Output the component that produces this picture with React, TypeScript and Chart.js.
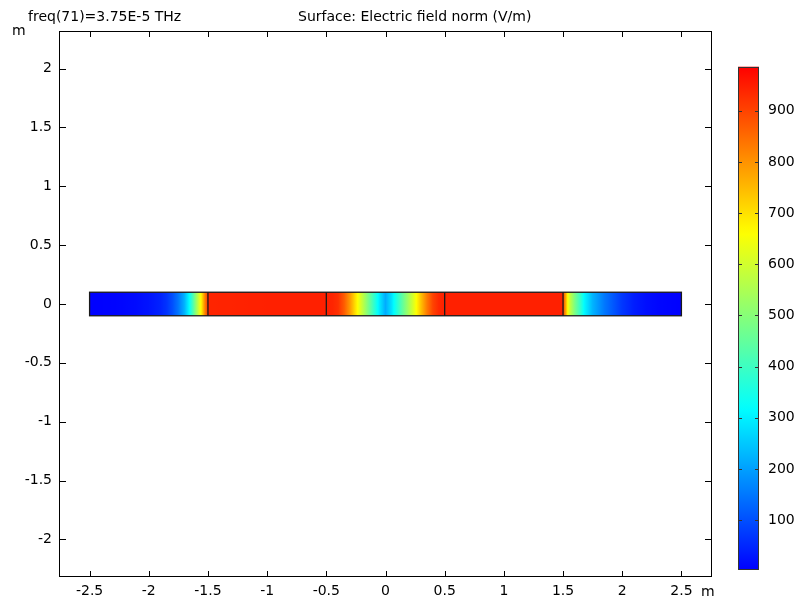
import React, { useEffect, useRef } from 'react';
import { Chart, registerables } from 'chart.js';

Chart.register(...registerables);

const FONT = "'DejaVu Sans', sans-serif";

const xTickValues = [-2.5, -2, -1.5, -1, -0.5, 0, 0.5, 1, 1.5, 2, 2.5];
const yTickValues = [-2, -1.5, -1, -0.5, 0, 0.5, 1, 1.5, 2];
const colorTickValues = [100, 200, 300, 400, 500, 600, 700, 800, 900];

// Electric field norm (V/m) sampled along the strip (x in m)
const fieldX = [
  -2.5, -2.4, -2.3, -2.2, -2.1, -2.0, -1.9, -1.85, -1.8, -1.75, -1.7, -1.66, -1.63, -1.6, -1.56, -1.53, -1.5,
  -1.5, -1.0, -0.5,
  -0.45, -0.4, -0.35, -0.3, -0.25, -0.2, -0.15, -0.1, -0.05, 0, 0.05, 0.1, 0.15, 0.2, 0.25, 0.3, 0.35, 0.4, 0.45, 0.5,
  1.0, 1.5,
  1.5, 1.52, 1.54, 1.56, 1.6, 1.65, 1.68, 1.75, 1.85, 2.0, 2.1, 2.2, 2.3, 2.4, 2.5,
];
const fieldE = [
  3, 4, 6, 10, 16, 26, 45, 65, 100, 150, 220, 310, 410, 520, 660, 800, 920,
  940, 945, 945,
  940, 925, 870, 790, 690, 590, 490, 390, 290, 215, 280, 370, 460, 550, 640, 740, 830, 900, 935, 945,
  945, 945,
  900, 790, 660, 580, 480, 380, 310, 225, 150, 70, 38, 20, 10, 6, 3,
];

const domainEdges = [-2.5, -1.5, -0.5, 0.5, 1.5, 2.5];
const stripBottom = -0.1;
const stripTop = 0.1;

const colorMin = 2.5;
const colorMax = 986;

const leftTitle = 'freq(71)=3.75E-5 THz';
const centerTitle = 'Surface: Electric field norm (V/m)';
const unitLabel = 'm';

const rainbowStops: [number, number, number, number][] = [
  [0, 0, 0, 255],
  [0.32, 0, 255, 255],
  [0.67, 255, 255, 0],
  [1, 255, 0, 0],
];

function colorFor(v: number): string {
  let t = (v - colorMin) / (colorMax - colorMin);
  t = Math.max(0, Math.min(1, t));
  for (let i = 0; i < rainbowStops.length - 1; i++) {
    const a = rainbowStops[i];
    const b = rainbowStops[i + 1];
    if (t <= b[0]) {
      const f = (t - a[0]) / (b[0] - a[0]);
      const r = Math.round(a[1] + (b[1] - a[1]) * f);
      const g = Math.round(a[2] + (b[2] - a[2]) * f);
      const bl = Math.round(a[3] + (b[3] - a[3]) * f);
      return `rgb(${r},${g},${bl})`;
    }
  }
  return 'rgb(255,0,0)';
}

const stripPlugin = {
  id: 'strip',
  afterDatasetsDraw(chart: any) {
    const ctx = chart.ctx as CanvasRenderingContext2D;
    const xs = chart.scales.x;
    const ys = chart.scales.y;
    const pts = chart.data.datasets[0].data as { x: number; y: number; e: number }[];
    const x0 = xs.getPixelForValue(pts[0].x);
    const x1 = xs.getPixelForValue(pts[pts.length - 1].x);
    const yT = ys.getPixelForValue(stripTop);
    const yB = ys.getPixelForValue(stripBottom);
    const grad = ctx.createLinearGradient(x0, 0, x1, 0);
    const off = (x: number) => Math.max(0, Math.min(1, (xs.getPixelForValue(x) - x0) / (x1 - x0)));
    grad.addColorStop(0, colorFor(pts[0].e));
    for (let i = 0; i < pts.length - 1; i++) {
      const a = pts[i];
      const b = pts[i + 1];
      if (a.x === b.x) {
        grad.addColorStop(off(b.x), colorFor(b.e));
        continue;
      }
      const n = 10;
      for (let k = 1; k <= n; k++) {
        const x = a.x + ((b.x - a.x) * k) / n;
        const v = a.e + ((b.e - a.e) * k) / n;
        grad.addColorStop(off(x), colorFor(v));
      }
    }
    ctx.save();
    ctx.fillStyle = grad;
    ctx.fillRect(x0, yT, x1 - x0, yB - yT);
    ctx.strokeStyle = '#1a1a1a';
    ctx.lineWidth = 1.3;
    ctx.strokeRect(x0, yT, x1 - x0, yB - yT);
    domainEdges.slice(1, -1).forEach((e) => {
      const px = xs.getPixelForValue(e);
      ctx.beginPath();
      ctx.moveTo(px, yT);
      ctx.lineTo(px, yB);
      ctx.stroke();
    });
    ctx.restore();
  },
};

const framePlugin = {
  id: 'frame',
  afterDraw(chart: any) {
    const ctx = chart.ctx as CanvasRenderingContext2D;
    const { left, right, top, bottom } = chart.chartArea;
    const xs = chart.scales.x;
    const ys = chart.scales.y;
    const tl = 6;
    ctx.save();
    ctx.strokeStyle = '#000';
    ctx.lineWidth = 1;
    ctx.strokeRect(Math.round(left) - 0.5, Math.round(top) + 0.5, Math.round(right - left) + 1, Math.round(bottom - top) - 1);
    ctx.beginPath();
    xTickValues.forEach((v) => {
      const px = Math.round(xs.getPixelForValue(v)) + 0.5;
      ctx.moveTo(px, bottom);
      ctx.lineTo(px, bottom - tl);
      ctx.moveTo(px, top);
      ctx.lineTo(px, top + tl);
    });
    yTickValues.forEach((v) => {
      const py = Math.round(ys.getPixelForValue(v)) + 0.5;
      ctx.moveTo(left, py);
      ctx.lineTo(left + tl, py);
      ctx.moveTo(right, py);
      ctx.lineTo(right - tl, py);
    });
    ctx.stroke();

    ctx.fillStyle = '#000';
    ctx.font = `14px ${FONT}`;
    ctx.textBaseline = 'alphabetic';
    ctx.textAlign = 'left';
    ctx.fillText(leftTitle, 28, 21);
    ctx.fillText(centerTitle, 298, 21);
    ctx.fillText(unitLabel, 12, 35);
    ctx.fillText(unitLabel, 701, 596);
    ctx.restore();
  },
};

const colorbarPlugin = {
  id: 'colorbar',
  afterDraw(chart: any) {
    const ctx = chart.ctx as CanvasRenderingContext2D;
    const { left, right, top, bottom } = chart.chartArea;
    const ys = chart.scales.y;
    const pB = ys.getPixelForValue(colorMin);
    const pT = ys.getPixelForValue(colorMax);
    const grad = ctx.createLinearGradient(0, pB, 0, pT);
    const n = 60;
    for (let k = 0; k <= n; k++) {
      const v = colorMin + ((colorMax - colorMin) * k) / n;
      grad.addColorStop(k / n, colorFor(v));
    }
    ctx.save();
    ctx.fillStyle = grad;
    ctx.fillRect(left, top, right - left, bottom - top);
    ctx.strokeStyle = '#333';
    ctx.lineWidth = 1;
    ctx.strokeRect(Math.round(left) + 0.5, Math.round(top) + 0.5, Math.round(right - left) - 1, Math.round(bottom - top) - 1);
    ctx.beginPath();
    colorTickValues.forEach((v) => {
      const py = Math.round(ys.getPixelForValue(v)) + 0.5;
      ctx.moveTo(left, py);
      ctx.lineTo(left + 4, py);
      ctx.moveTo(right, py);
      ctx.lineTo(right - 4, py);
    });
    ctx.stroke();
    ctx.restore();
  },
};

export default function App() {
  const mainRef = useRef<HTMLCanvasElement>(null);
  const barRef = useRef<HTMLCanvasElement>(null);

  useEffect(() => {
    const tickFont = { family: FONT, size: 14 };
    const noGrid = { display: false, drawTicks: false, tickLength: 0 };
    const main = new Chart(mainRef.current as HTMLCanvasElement, {
      type: 'scatter',
      data: {
        datasets: [
          {
            data: fieldX.map((x, i) => ({ x, y: 0, e: fieldE[i] })) as any,
            pointRadius: 0,
            showLine: false,
          },
        ],
      },
      options: {
        responsive: false,
        animation: false,
        devicePixelRatio: 1,
        events: [],
        layout: { padding: { left: 0, top: 31, right: 87, bottom: 0 } },
        plugins: { legend: { display: false }, tooltip: { enabled: false } },
        scales: {
          x: {
            type: 'linear',
            min: -2.75,
            max: 2.75,
            grid: noGrid,
            border: { display: false },
            afterBuildTicks: (s: any) => {
              s.ticks = xTickValues.map((v) => ({ value: v }));
            },
            afterFit: (s: any) => {
              s.height = 24;
            },
            ticks: {
              padding: 6,
              color: '#000',
              font: tickFont,
              maxRotation: 0,
              autoSkip: false,
              callback: (v: any) => String(v),
            },
          },
          y: {
            type: 'linear',
            min: -2.32,
            max: 2.32,
            grid: noGrid,
            border: { display: false },
            afterBuildTicks: (s: any) => {
              s.ticks = yTickValues.map((v) => ({ value: v }));
            },
            afterFit: (s: any) => {
              s.width = 60;
            },
            ticks: {
              padding: 8,
              color: '#000',
              font: tickFont,
              autoSkip: false,
              callback: (v: any) => String(v),
            },
          },
        },
      } as any,
      plugins: [stripPlugin, framePlugin],
    });

    const bar = new Chart(barRef.current as HTMLCanvasElement, {
      type: 'scatter',
      data: { datasets: [] },
      options: {
        responsive: false,
        animation: false,
        devicePixelRatio: 1,
        events: [],
        layout: { padding: { left: 38, top: 66.7, right: 0, bottom: 31 } },
        plugins: { legend: { display: false }, tooltip: { enabled: false } },
        scales: {
          x: { type: 'linear', display: false, min: 0, max: 1 },
          y: {
            type: 'linear',
            position: 'right',
            min: colorMin,
            max: colorMax,
            grid: noGrid,
            border: { display: false },
            afterBuildTicks: (s: any) => {
              s.ticks = colorTickValues.map((v) => ({ value: v }));
            },
            afterFit: (s: any) => {
              s.width = 39;
            },
            ticks: {
              padding: 9,
              color: '#000',
              font: tickFont,
              autoSkip: false,
              callback: (v: any) => String(v),
            },
          },
        },
      } as any,
      plugins: [colorbarPlugin],
    });

    return () => {
      main.destroy();
      bar.destroy();
    };
  }, []);

  return (
    <div style={{ position: 'fixed', left: 0, top: 0, width: 798, height: 601, background: '#fff' }}>
      <canvas ref={mainRef} width={798} height={601} style={{ position: 'absolute', left: 0, top: 0 }} />
      <canvas ref={barRef} width={98} height={601} style={{ position: 'absolute', left: 700, top: 0 }} />
    </div>
  );
}
